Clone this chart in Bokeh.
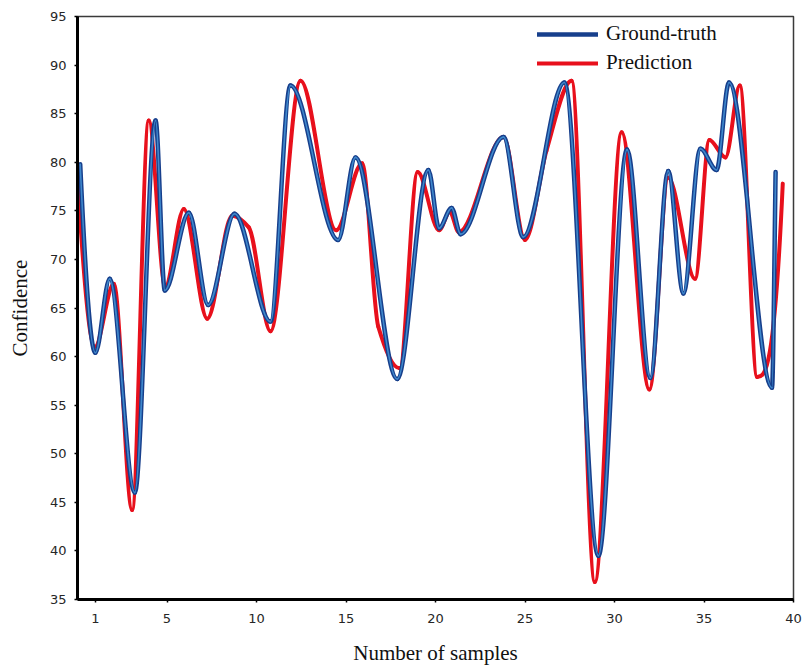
from bokeh.plotting import figure
from bokeh.models import ColumnDataSource, FixedTicker, Legend, LegendItem
from bokeh.embed import file_html
from bokeh.resources import INLINE

# ---- data (sample index, confidence) ----
gt_x = [0.15, 1.0, 1.8, 3.2, 4.36, 4.88, 6.22, 7.3, 8.77, 10.78, 11.9, 14.56, 15.53,
        17.86, 19.6, 20.2, 20.9, 21.4, 23.8, 24.9, 27.2, 29.1, 30.7, 32.0, 33.0,
        33.85, 34.8, 35.7, 36.4, 38.8, 39.0]
gt_y = [79.8, 60.4, 68.0, 46.0, 84.3, 66.8, 74.8, 65.3, 74.7, 63.6, 87.9, 72.0, 80.5,
        57.7, 79.2, 73.2, 75.3, 72.6, 82.6, 72.3, 88.2, 39.5, 81.3, 57.8, 79.1,
        66.5, 81.4, 79.2, 88.2, 56.8, 79.0]

pr_x = [0.0, 0.97, 2.03, 3.05, 3.98, 4.9, 5.94, 7.25, 8.64, 9.57, 10.78, 12.46, 14.45,
        15.9, 16.8, 18.0, 19.0, 20.2, 20.8, 21.3, 23.8, 25.0, 26.2, 27.6, 28.9, 30.4,
        31.95, 33.0, 34.5, 35.3, 36.2, 37.0, 37.97, 39.4]
pr_y = [78.3, 61.0, 67.5, 44.2, 84.3, 67.2, 75.2, 63.9, 74.5, 73.3, 62.6, 88.4, 73.0,
        79.9, 63.1, 58.8, 79.0, 73.0, 74.9, 72.8, 82.6, 72.0, 81.2, 88.4, 36.8, 83.1,
        56.6, 78.4, 68.0, 82.3, 80.5, 87.9, 57.9, 77.8]

x_ticks = [1, 5, 10, 15, 20, 25, 30, 35, 40]
y_ticks = [35, 40, 45, 50, 55, 60, 65, 70, 75, 80, 85, 90, 95]

series_names = ["Ground-truth", "Prediction"]


def smooth_segments(xs, ys):
    """Monotone cubic (PCHIP) tangents -> Bezier control points for each segment."""
    n = len(xs)
    h = [xs[i + 1] - xs[i] for i in range(n - 1)]
    d = [(ys[i + 1] - ys[i]) / h[i] for i in range(n - 1)]
    m = [0.0] * n
    for k in range(1, n - 1):
        if d[k - 1] * d[k] <= 0:
            m[k] = 0.0
        else:
            w1 = 2 * h[k] + h[k - 1]
            w2 = h[k] + 2 * h[k - 1]
            m[k] = (w1 + w2) / (w1 / d[k - 1] + w2 / d[k])

    def end_slope(h0, h1, d0, d1):
        s = ((2 * h0 + h1) * d0 - h0 * d1) / (h0 + h1)
        if s * d0 <= 0:
            return 0.0
        if d0 * d1 < 0 and abs(s) > abs(3 * d0):
            return 3 * d0
        return s

    m[0] = end_slope(h[0], h[1], d[0], d[1])
    m[-1] = end_slope(h[-1], h[-2], d[-1], d[-2])
    data = dict(x0=[], y0=[], x1=[], y1=[], cx0=[], cy0=[], cx1=[], cy1=[])
    for i in range(n - 1):
        t = h[i] / 3.0
        data["x0"].append(xs[i]); data["y0"].append(ys[i])
        data["x1"].append(xs[i + 1]); data["y1"].append(ys[i + 1])
        data["cx0"].append(xs[i] + t); data["cy0"].append(ys[i] + m[i] * t)
        data["cx1"].append(xs[i + 1] - t); data["cy1"].append(ys[i + 1] - m[i + 1] * t)
    return ColumnDataSource(data)


p = figure(width=805, height=667, x_range=(0, 40), y_range=(35, 95),
           output_backend="svg", toolbar_location=None,
           min_border_left=77, min_border_right=12, min_border_top=16, min_border_bottom=67)
p.background_fill_color = "white"
p.border_fill_color = "white"
p.grid.visible = False
p.outline_line_color = "#3a3a3a"
p.outline_line_width = 1.5

src_pr = smooth_segments(pr_x, pr_y)
src_gt = smooth_segments(gt_x, gt_y)

r_pr = p.bezier(x0="x0", y0="y0", x1="x1", y1="y1", cx0="cx0", cy0="cy0",
                cx1="cx1", cy1="cy1", source=src_pr, line_color="#e8101c",
                line_width=4, line_cap="round")
r_gt = p.bezier(x0="x0", y0="y0", x1="x1", y1="y1", cx0="cx0", cy0="cy0",
                cx1="cx1", cy1="cy1", source=src_gt, line_color="#173f8c",
                line_width=4.5, line_cap="round")
r_gt_core = p.bezier(x0="x0", y0="y0", x1="x1", y1="y1", cx0="cx0", cy0="cy0",
                     cx1="cx1", cy1="cy1", source=src_gt, line_color="#3f88cc",
                     line_width=1.6, line_cap="round")

legend = Legend(items=[LegendItem(label=series_names[0], renderers=[r_gt]),
                       LegendItem(label=series_names[1], renderers=[r_pr])],
                location=(460, 524))
legend.border_line_alpha = 0
legend.background_fill_alpha = 0
legend.padding = 0
legend.margin = 0
legend.spacing = 4
legend.glyph_width = 61
legend.glyph_height = 22
legend.label_height = 22
legend.label_standoff = 8
legend.label_text_font = "Liberation Serif"
legend.label_text_font_size = "21px"
legend.label_text_color = "#111111"
p.add_layout(legend)

for ax in (p.xaxis[0], p.yaxis[0]):
    ax.axis_line_color = "black"
    ax.axis_line_width = 3
    ax.major_tick_line_color = "black"
    ax.major_tick_line_width = 1.5
    ax.major_tick_out = 3
    ax.major_tick_in = 0
    ax.minor_tick_line_color = None
    ax.major_label_text_font = "DejaVu Sans"
    ax.major_label_text_font_size = "13px"
    ax.major_label_text_color = "#262626"
    ax.axis_label_text_font = "Liberation Serif"
    ax.axis_label_text_font_size = "21px"
    ax.axis_label_text_font_style = "normal"
    ax.axis_label_text_color = "#111111"

p.xaxis[0].ticker = FixedTicker(ticks=x_ticks)
p.yaxis[0].ticker = FixedTicker(ticks=y_ticks)
p.xaxis[0].axis_label = "Number of samples"
p.yaxis[0].axis_label = "Confidence"
p.xaxis[0].major_label_standoff = 11
p.yaxis[0].major_label_standoff = 8
p.xaxis[0].axis_label_standoff = 15
p.yaxis[0].axis_label_standoff = 15

open("out.html", "w").write(file_html(p, INLINE))
